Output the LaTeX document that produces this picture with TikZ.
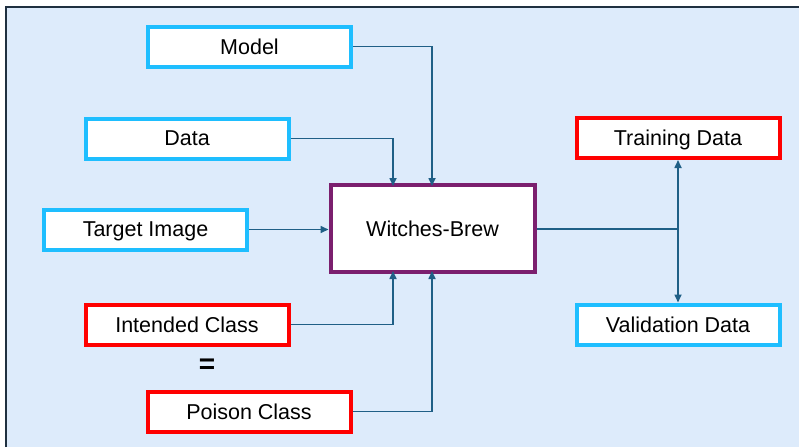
\documentclass[tikz,border=0pt]{standalone}
\usepackage{fontspec}
\setmainfont{Liberation Sans}
\usetikzlibrary{arrows.meta}
\definecolor{bgblue}{HTML}{DDEBFB}
\definecolor{frame}{HTML}{1F3040}
\definecolor{cyanb}{HTML}{1EBEFF}
\definecolor{redb}{HTML}{FF0000}
\definecolor{purp}{HTML}{7B1F6E}
\definecolor{conn}{HTML}{1F5F86}
\tikzset{
  box/.style={draw, fill=white, line width=4pt, minimum width=203pt, minimum height=40pt, inner sep=0pt, text depth=0pt, font=\fontsize{21.5}{24}\selectfont},
  inbox/.style={box, draw=cyanb},
  redbox/.style={box, draw=redb},
  brew/.style={box, draw=purp, minimum width=204pt, minimum height=87pt},
  link/.style={draw=conn, line width=1.6pt, -{Triangle[length=8pt,width=7pt]}},
  plain/.style={draw=conn, line width=1.6pt}
}
\begin{document}
\begin{tikzpicture}[x=1pt,y=-1pt]
\useasboundingbox (0,0) rectangle (799,447);
\fill[white] (0,0) rectangle (799,447);
\fill[bgblue] (6,7) rectangle (799,447);
\draw[frame, line width=2.5pt] (6,447) -- (6,7) -- (799,7);
\node[inbox] (model) at (249.5,46.5) {Model};
\node[inbox] (data) at (187,138.5) {Data};
\node[inbox] (target) at (145.5,229.5) {Target Image};
\node[redbox] (intended) at (187,324.5) {Intended Class};
\node[redbox] (poison) at (249,411.5) {Poison Class};
\node[brew] (wb) at (432.5,228.5) {Witches-Brew};
\node[redbox] (train) at (678,138) {Training Data};
\node[inbox] (valid) at (678,324.5) {Validation Data};
\node[font=\fontsize{28}{28}\selectfont\bfseries] (eq) at (207,366) {=};
\coordinate (split) at (678,229);
\draw[link] (model.east) -| (432,186);
\draw[link] (data.east) -| (393,186);
\draw[link] (target.east) -- (wb.west |- target.east);
\draw[link] (intended.east) -| (393,271);
\draw[link] (poison.east) -| (432,271);
\draw[plain] (wb.east |- split) -- (split);
\draw[link] (split) -- (train.south);
\draw[link] (split) -- (valid.north);
\end{tikzpicture}
\end{document}
